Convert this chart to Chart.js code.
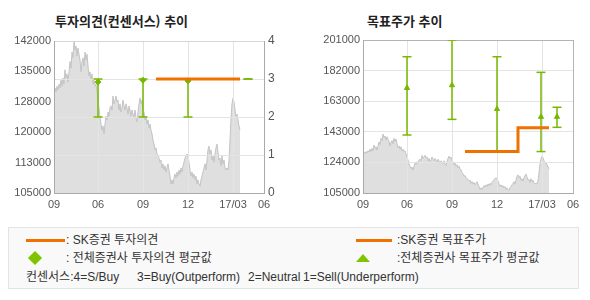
<!DOCTYPE html>
<html lang="ko">
<head>
<meta charset="utf-8">
<script src="https://cdn.jsdelivr.net/npm/chart.js@4.4.1/dist/chart.umd.min.js"></script>
<style>
  html, body { margin: 0; padding: 0; background: #fff; }
  body { width: 590px; height: 300px; position: relative; overflow: hidden;
         font-family: "Liberation Sans", "Noto Sans CJK KR", sans-serif; color: #333; }
  .title { position: absolute; top: 11px; font: bold 13px "Noto Sans CJK KR", sans-serif; color: #222; white-space: nowrap; }
  #opinionChart { position: absolute; left: 0; top: 0; }
  #targetChart { position: absolute; left: 295px; top: 0; }
  .box { position: absolute; left: 8px; top: 227px; width: 569px; height: 60px;
         background: #f9f9f9; border: 1px solid #e3e3e3; }
  .txt { position: absolute; font-size: 12px; line-height: 14px; white-space: pre; color: #333; }
  .oline { position: absolute; height: 3px; background: #f07000; }
  .diamond { position: absolute; left: 30px; top: 253px; width: 10px; height: 10px;
             background: #80c400; transform: rotate(45deg); }
  .tri { position: absolute; left: 356px; top: 254px; width: 0; height: 0;
         border-left: 7px solid transparent; border-right: 7px solid transparent; border-bottom: 8px solid #80c400; }
</style>
</head>
<body>
<div class="title" style="left:55px">투자의견(컨센서스) 추이</div>
<div class="title" style="left:367px">목표주가 추이</div>
<canvas id="opinionChart" width="295" height="216"></canvas>
<canvas id="targetChart" width="295" height="216"></canvas>

<div class="box"></div>
<div class="oline" style="left:26px; top:239px; width:39px"></div>
<div class="txt" style="left:66px; top:233px">: SK증권 투자의견</div>
<div class="diamond"></div>
<div class="txt" style="left:66px; top:251px">: 전체증권사 투자의견 평균값</div>
<div class="oline" style="left:356px; top:239px; width:36px"></div>
<div class="txt" style="left:397px; top:233px">:SK증권 목표주가</div>
<div class="tri"></div>
<div class="txt" style="left:397px; top:251px">:전체증권사 목표주가 평균값</div>
<div class="txt" style="left:26px; top:270px">컨센서스:4=S/Buy</div>
<div class="txt" style="left:137px; top:270px">3=Buy(Outperform)</div>
<div class="txt" style="left:248px; top:270px">2=Neutral</div>
<div class="txt" style="left:303px; top:270px">1=Sell(Underperform)</div>

<script>
// x axis is in trading-day index from the start of the window
const xTickDays = [0, 44, 89, 134, 179, 210];
const xTickLabels = ['09', '06', '09', '12', '17/03', '06'];

// daily close (won)
const prices = [
  129800,130600,129600,131000,130100,131500,130600,132500,131000,133000,
  131500,135000,133000,134000,132000,134500,137000,135400,139300,137900,
  142000,139800,140800,138300,140300,138800,137400,134500,136900,137900,
  135900,139300,137400,138800,135900,133500,134500,132500,134000,131500,
  132500,131000,131500,129600,127600,125700,123300,121800,120300,121300,
  119400,121800,123700,122800,124700,123700,125700,126200,125200,128600,
  126700,127600,128600,127200,127600,125200,126700,124700,125700,127600,
  126200,125200,126700,125700,124200,126200,125200,123700,125200,124200,
  123300,125200,123300,122300,124700,126700,128100,126700,127600,125200,
  124700,122800,123700,121800,122800,120800,121800,120300,119400,117900,
  116900,115500,116000,114500,114000,113500,112500,113000,111100,112100,
  110600,111600,110100,111100,112100,110600,109100,107200,108200,107200,
  108700,109600,108700,110100,109100,110600,109600,111100,110100,111600,
  112500,113500,114000,114500,114000,112500,110600,109100,110100,108700,
  109600,108200,109100,107200,108200,107200,106700,108200,109100,110100,
  111100,112100,110600,113000,115500,116400,114500,115500,113000,114000,
  112500,114500,116000,116900,115000,113000,113500,111600,114000,112100,
  113000,111100,110600,111100,110600,113000,117900,123300,126700,128100,
  127200,125200,123700,124200,122800,121300,120300
];

const priceTicks = [105000, 112400, 119800, 127200, 134600, 142000];
const priceTickLabels = ['105000', '113000', '120000', '128000', '135000', '142000'];
const targetTicks = [105000, 124200, 143400, 162600, 181800, 201000];
const targetTickLabels = ['105000', '124000', '143000', '163000', '182000', '201000'];

// consensus (all brokers)
const consensusDays = [44, 89, 134, 178, 194];
const opinionHigh = [3, 3, 3, 3, 3];
const opinionLow = [2, 2, 2, 3, 3];
const opinionAvg = [2.92, 2.97, 2.95, null, null];
const targetHigh = [190500, 201000, 190500, 180700, 158800];
const targetLow = [141400, 151200, 131000, 131000, 146200];
const targetAvg = [170900, 172600, 157700, 152800, 152800];

// SK securities
const skDays = [102, 155, 186];
const skOpinion = [3, 3, 3];
const skTarget = [131000, 146000, 146000];

const GREEN = '#76b900';
const ORANGE = '#f07000';
const GRID = '#e4e4e4';
const AXIS = '#aaaaaa';
const tickFont = { family: 'Liberation Sans', size: 11 };

// grid lines sit on top of the grey price area in the original
const gridOverArea = {
  id: 'gridOverArea',
  afterDatasetDraw(chart, args) {
    if (!chart.data.datasets[args.index].isArea) return;
    Object.values(chart.scales).forEach(s => {
      if (s.options.grid.display) s.drawGrid(chart.chartArea);
    });
    Object.values(chart.scales).forEach(s => s.drawBorder());
  }
};

function rangeLines(days, lo, hi) {
  const out = [];
  days.forEach((d, i) => {
    out.push({ x: d, y: lo[i] }, { x: d, y: hi[i] }, { x: d, y: null });
  });
  return out;
}
function caps(days, lo, hi) {
  const out = [];
  days.forEach((d, i) => { out.push({ x: d, y: lo[i] }, { x: d, y: hi[i] }); });
  return out;
}
const pairs = (xs, ys) => xs.map((x, i) => ({ x: x, y: ys[i] })).filter(p => p.y !== null);

function xScale(lastColor) {
  return {
    type: 'linear', min: 0, max: 210,
    afterBuildTicks: s => { s.ticks = xTickDays.map(v => ({ value: v })); },
    afterFit: s => { s.height = 23; },
    ticks: { callback: (v, i) => xTickLabels[i], color: '#555', font: tickFont, padding: 5, autoSkip: false, maxRotation: 0 },
    grid: { color: c => (c.index === 0 || c.index === xTickDays.length - 1) ? lastColor : GRID, drawTicks: false },
    border: { color: AXIS }
  };
}

function priceArea(axisId) {
  return {
    type: 'line', isArea: true, order: 10, yAxisID: axisId,
    data: prices.map((v, i) => ({ x: i, y: v })),
    borderColor: '#c3c3c3', borderWidth: 1, backgroundColor: '#dfdfdf',
    fill: 'start', pointRadius: 0, tension: 0
  };
}

const common = {
  responsive: false, animation: false, events: [],
  plugins: { legend: { display: false }, tooltip: { enabled: false } }
};

new Chart(document.getElementById('opinionChart').getContext('2d'), {
  type: 'line',
  data: {
    datasets: [
      priceArea('y'),
      { type: 'line', order: 3, yAxisID: 'y2', data: rangeLines(consensusDays, opinionLow, opinionHigh),
        borderColor: GREEN, borderWidth: 1.5, pointRadius: 0, spanGaps: false },
      { type: 'line', order: 2, yAxisID: 'y2', data: caps(consensusDays, opinionLow, opinionHigh), showLine: false,
        pointStyle: 'line', pointRadius: 4.5, pointBorderWidth: 1.5, pointBorderColor: GREEN },
      { type: 'line', order: 1, yAxisID: 'y2', data: pairs(consensusDays, opinionAvg), showLine: false,
        pointStyle: 'rectRot', pointRadius: 3, pointBackgroundColor: GREEN, pointBorderColor: GREEN, pointBorderWidth: 1 },
      { type: 'line', order: 0, yAxisID: 'y2', data: pairs(skDays, skOpinion),
        borderColor: ORANGE, borderWidth: 3, pointRadius: 0, stepped: 'before' }
    ]
  },
  options: {
    ...common,
    layout: { padding: { top: 41, left: 0, right: 0, bottom: 0 } },
    scales: {
      x: xScale(AXIS),
      y: {
        position: 'left', min: 105000, max: 142000,
        afterBuildTicks: s => { s.ticks = priceTicks.map(v => ({ value: v })); },
        afterFit: s => { s.width = 54; },
        ticks: { callback: (v, i) => priceTickLabels[i], color: '#555', font: tickFont, padding: 3 },
        grid: { display: false, drawTicks: false },
        border: { color: AXIS }
      },
      y2: {
        position: 'right', min: 0, max: 4,
        afterFit: s => { s.width = 31; },
        ticks: { stepSize: 1, color: '#555', font: { family: 'Liberation Sans', size: 12 }, padding: 4 },
        grid: { color: c => c.tick && c.tick.value === 4 ? '#d6d6d6' : GRID, drawTicks: false },
        border: { color: AXIS }
      }
    }
  },
  plugins: [gridOverArea]
});

new Chart(document.getElementById('targetChart').getContext('2d'), {
  type: 'line',
  data: {
    datasets: [
      priceArea('y'),
      { type: 'line', order: 3, data: rangeLines(consensusDays, targetLow, targetHigh),
        borderColor: GREEN, borderWidth: 1.5, pointRadius: 0, spanGaps: false },
      { type: 'line', order: 2, data: caps(consensusDays, targetLow, targetHigh), showLine: false,
        pointStyle: 'line', pointRadius: 4.5, pointBorderWidth: 1.5, pointBorderColor: GREEN },
      { type: 'line', order: 1, data: pairs(consensusDays, targetAvg), showLine: false,
        pointStyle: 'triangle', pointRadius: 3, pointBackgroundColor: GREEN, pointBorderColor: GREEN, pointBorderWidth: 1 },
      { type: 'line', order: 0, data: pairs(skDays, skTarget),
        borderColor: ORANGE, borderWidth: 3, pointRadius: 0, stepped: 'before' }
    ]
  },
  options: {
    ...common,
    layout: { padding: { top: 40, left: 0, right: 17, bottom: 0 } },
    scales: {
      x: xScale('#b4b4b4'),
      y: {
        position: 'left', min: 105000, max: 201000,
        afterBuildTicks: s => { s.ticks = targetTicks.map(v => ({ value: v })); },
        afterFit: s => { s.width = 68; },
        ticks: { callback: (v, i) => targetTickLabels[i], color: '#555', font: tickFont, padding: 3 },
        grid: { color: c => c.tick && c.tick.value === 201000 ? '#b4b4b4' : GRID, drawTicks: false },
        border: { color: AXIS }
      }
    }
  },
  plugins: [gridOverArea]
});
</script>
</body>
</html>
